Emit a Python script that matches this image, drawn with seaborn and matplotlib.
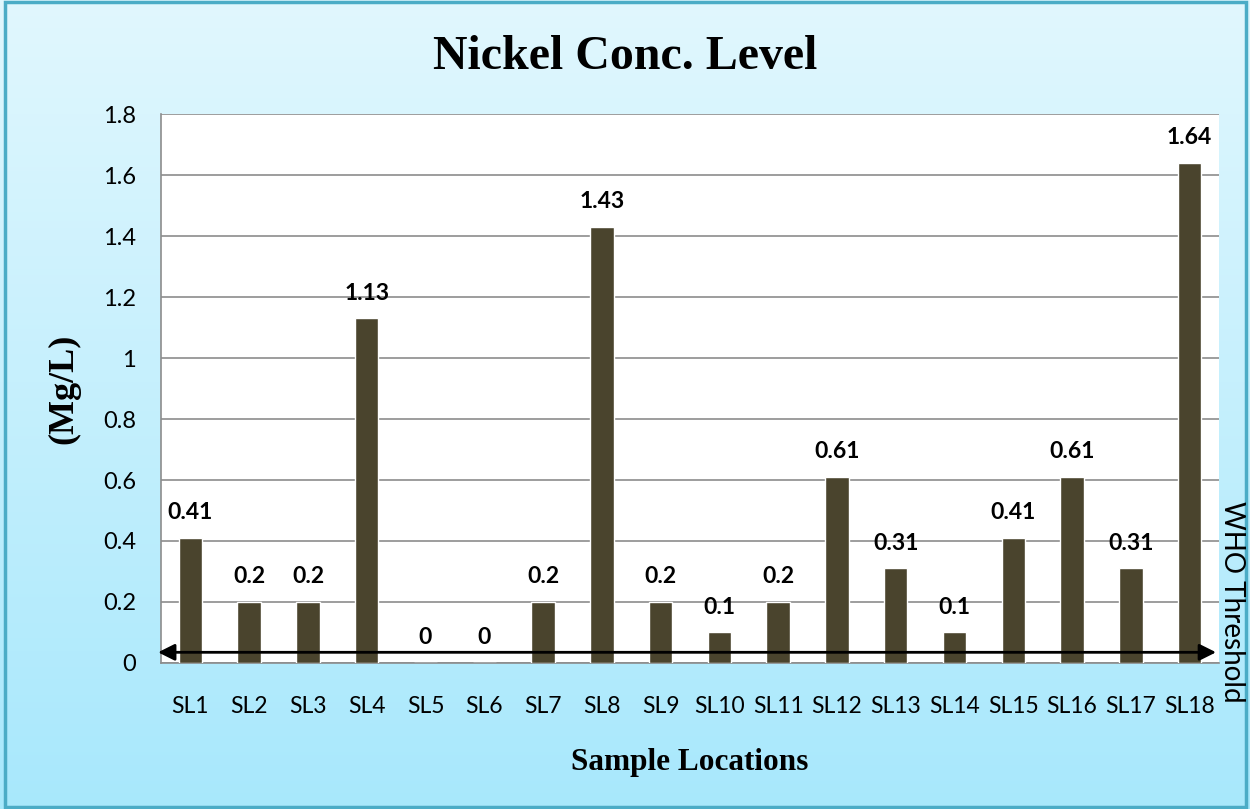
import numpy as np
import pandas as pd
import matplotlib
matplotlib.use("Agg")
import matplotlib.pyplot as plt
from matplotlib.patches import Rectangle
import seaborn as sns

locations = [f"SL{i}" for i in range(1, 19)]
nickel = [0.41, 0.2, 0.2, 1.13, 0, 0, 0.2, 1.43, 0.2, 0.1, 0.2, 0.61, 0.31, 0.1, 0.41, 0.61, 0.31, 1.64]
value_labels = ["0.41", "0.2", "0.2", "1.13", "0", "0", "0.2", "1.43", "0.2", "0.1",
                "0.2", "0.61", "0.31", "0.1", "0.41", "0.61", "0.31", "1.64"]
threshold = 0.035
y_ticks = [0, 0.2, 0.4, 0.6, 0.8, 1, 1.2, 1.4, 1.6, 1.8]
y_tick_labels = ["0", "0.2", "0.4", "0.6", "0.8", "1", "1.2", "1.4", "1.6", "1.8"]

df = pd.DataFrame({"location": locations, "nickel": nickel})

sns.set_style("white")
plt.rcParams["font.family"] = ["Lato", "DejaVu Sans"]
plt.rcParams["text.color"] = "black"
plt.rcParams["axes.labelcolor"] = "black"
plt.rcParams["xtick.labelcolor"] = "black"
plt.rcParams["ytick.labelcolor"] = "black"

fig = plt.figure(figsize=(12.5, 8.09), dpi=100)

# Light cyan vertical gradient behind everything
bg = fig.add_axes([0, 0, 1, 1], zorder=-10)
grad = np.linspace(0, 1, 256).reshape(-1, 1)
top = np.array([0.882, 0.969, 0.996])
bottom = np.array([0.659, 0.910, 0.988])
img = top[None, None, :] * (1 - grad[..., None]) + bottom[None, None, :] * grad[..., None]
bg.imshow(img, aspect="auto", extent=[0, 1, 0, 1])
bg.set_axis_off()
bg.add_patch(Rectangle((0.004, 0.003), 0.993, 0.994, transform=bg.transAxes,
                       fill=False, edgecolor="#4bacc6", lw=2.5))

ax = fig.add_axes([0.1288, 0.1805, 0.8464, 0.6785])
ax.set_facecolor("white")
sns.barplot(data=df, x="location", y="nickel", color="#4a442d", width=0.4,
            saturation=1, ax=ax, zorder=3)

ax.set_ylim(0, 1.8)
ax.set_yticks(y_ticks)
ax.set_yticklabels(y_tick_labels)
ax.yaxis.grid(True, color="#8c8c8c", lw=1.2, zorder=0)
ax.set_axisbelow(True)
for s in ["top", "right"]:
    ax.spines[s].set_visible(False)
ax.spines["left"].set_color("#8c8c8c")
ax.spines["left"].set_linewidth(1.2)
ax.spines["bottom"].set_color("#8c8c8c")
ax.spines["bottom"].set_linewidth(1.2)
ax.tick_params(axis="y", length=6, color="#8c8c8c", width=1.2, labelsize=17, pad=12)
ax.tick_params(axis="x", length=0, labelsize=16.5, pad=24)

for i, (v, lab) in enumerate(zip(nickel, value_labels)):
    ax.annotate(lab, (i, v), xytext=(0, 10.5), textcoords="offset points",
                ha="center", va="bottom", fontsize=16.5, fontweight="bold", zorder=5)

# WHO threshold double arrow across the plot
ax.annotate("", xy=(-0.55, threshold), xytext=(17.45, threshold),
            xycoords=("data", "data"),
            arrowprops=dict(arrowstyle="<|-|>", color="black", lw=2,
                            mutation_scale=25, shrinkA=0, shrinkB=0),
            annotation_clip=False, zorder=6)
fig.text(0.9855, 0.256, "WHO Threshold", rotation=-90, ha="center", va="center",
         fontsize=20)

ax.set_xlabel("Sample Locations", family="Liberation Serif", fontweight="bold",
              fontsize=22.5, labelpad=22)
ax.set_ylabel("(Mg/L)", family="Liberation Serif", fontweight="bold",
              fontsize=26, labelpad=16)
fig.text(0.5, 0.930, "Nickel Conc. Level", family="Liberation Serif",
         fontweight="bold", fontsize=34.5, ha="center", va="center")

fig.savefig("out.png", dpi=100)
